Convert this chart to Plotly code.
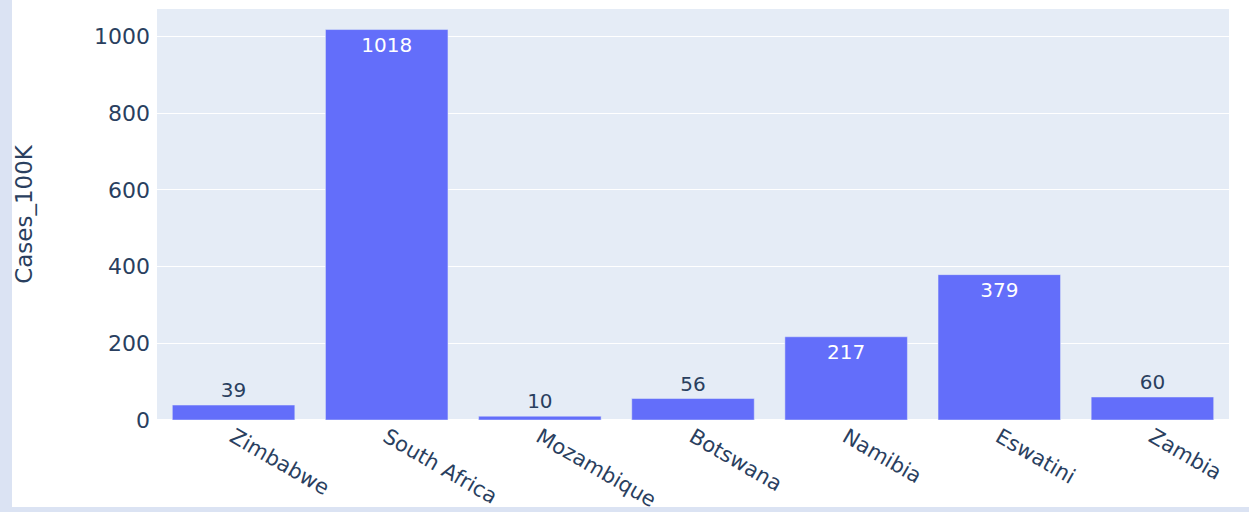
import plotly.graph_objects as go

countries = ["Zimbabwe", "South Africa", "Mozambique", "Botswana", "Namibia", "Eswatini", "Zambia"]
cases_100k = [39, 1018, 10, 56, 217, 379, 60]

W, H = 1249, 512
L, R, T, B = 157, 20, 9, 92
pw, ph = W - L - R, H - T - B

def px_x(p):
    return (p - L) / pw

def px_y(p):
    return (H - B - p) / ph

fig = go.Figure(go.Bar(
    x=countries, y=cases_100k, text=cases_100k, textposition="auto",
    marker_color="#636efa", textfont=dict(size=20),
))

border = "#dbe3f3"
fig.add_shape(type="rect", xref="paper", yref="paper", layer="below",
              x0=px_x(0), x1=px_x(12), y0=px_y(H), y1=px_y(0),
              fillcolor=border, line_width=0)
fig.add_shape(type="rect", xref="paper", yref="paper", layer="below",
              x0=px_x(0), x1=px_x(W), y0=px_y(H), y1=px_y(507),
              fillcolor=border, line_width=0)

fig.update_layout(
    template="plotly",
    width=W, height=H,
    margin=dict(l=L, r=R, t=T, b=B, autoexpand=False),
    paper_bgcolor="white",
    font=dict(family="DejaVu Sans", size=20, color="#2a3f5f"),
    xaxis=dict(tickangle=30, tickfont=dict(size=21), automargin=False),
    yaxis=dict(title=dict(text="Cases_100K", font=dict(size=23), standoff=54),
               tickfont=dict(size=22), ticklabelstandoff=6, automargin=False),
)

fig.write_html("out.html", config={"displayModeBar": False},
               post_script="document.body.style.margin='0';document.body.style.overflow='hidden';")
